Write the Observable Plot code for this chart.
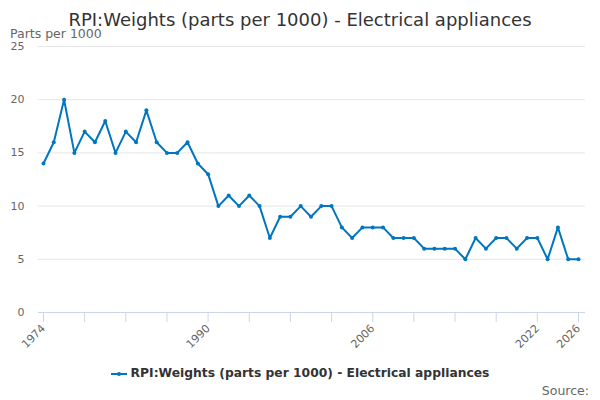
<!DOCTYPE html>
<html>
<head>
<meta charset="utf-8">
<script src="https://cdn.jsdelivr.net/npm/d3@7"></script>
<script src="https://cdn.jsdelivr.net/npm/@observablehq/plot@0.6"></script>
<style>
  body { margin: 0; background: #fff; font-family: "DejaVu Sans", sans-serif; }
  #wrap { position: relative; width: 600px; height: 400px; overflow: hidden; }
  #title { position: absolute; top: 9px; left: 0; width: 600px; text-align: center; font-size: 18px; color: #333; }
  #ylab { position: absolute; top: 26px; left: 10px; font-size: 12.5px; color: #666; }
  #legend { position: absolute; top: 366px; left: 0; width: 600px; text-align: center; font-size: 12.3px; font-weight: bold; color: #333; }
  #legend svg { vertical-align: middle; margin-right: 4px; }
  #source { position: absolute; top: 383px; right: 11px; font-size: 12.5px; color: #666; }
  #chart { position: absolute; top: 0; left: 0; }
</style>
</head>
<body>
<div id="wrap">
  <div id="chart"></div>
  <div id="title">RPI:Weights (parts per 1000) - Electrical appliances</div>
  <div id="ylab">Parts per 1000</div>
  <div id="legend"><svg width="16" height="10"><line x1="0" y1="5" x2="16" y2="5" stroke="#0076c0" stroke-width="2"/><circle cx="8" cy="5" r="2" fill="#0076c0"/></svg>RPI:Weights (parts per 1000) - Electrical appliances</div>
  <div id="source">Source:</div>
</div>
<script>
const years = d3.range(1974, 2027);
const values = [14,16,20,15,17,16,18,15,17,16,19,16,15,15,16,14,13,10,11,10,11,10,7,9,9,10,9,10,10,8,7,8,8,8,7,7,7,6,6,6,6,5,7,6,7,7,6,7,7,5,8,5,5];
const yTicks = [0,5,10,15,20,25];
const xTicks = d3.range(1974, 2027, 4);
const xLabels = [1974, 1990, 2006, 2022, 2026];
const data = years.map((y, i) => ({year: y, value: values[i]}));
const color = "#0076c0";

const chart = Plot.plot({
  width: 600,
  height: 400,
  marginTop: 46,
  marginBottom: 88,
  marginLeft: 43,
  marginRight: 22,
  style: {fontFamily: "DejaVu Sans, sans-serif", fontSize: "11px", color: "#666", background: "transparent"},
  x: {domain: [1974, 2026], label: null},
  y: {domain: [0, 25], label: null},
  marks: [
    Plot.ruleY(yTicks.filter(d => d > 0), {stroke: "#e6e6e6", strokeOpacity: 1, insetLeft: -5, insetRight: -7}),
    Plot.ruleY([0], {stroke: "#ccd6eb", strokeOpacity: 1, insetLeft: -5, insetRight: -7}),
    Plot.axisY({ticks: yTicks, tickSize: 0, tickPadding: 19, label: null, fill: "#666", fontSize: 11}),
    Plot.axisX({ticks: xTicks, tickSize: 10, stroke: "#ccd6eb", strokeOpacity: 1, tickRotate: -45, tickPadding: 4,
      tickFormat: d => xLabels.includes(d) ? String(d) : "", label: null, fill: "#666", fontSize: 11}),
    Plot.line(data, {x: "year", y: "value", stroke: color, strokeWidth: 2}),
    Plot.dot(data, {x: "year", y: "value", fill: color, r: 2})
  ]
});
document.getElementById("chart").appendChild(chart);
</script>
</body>
</html>
